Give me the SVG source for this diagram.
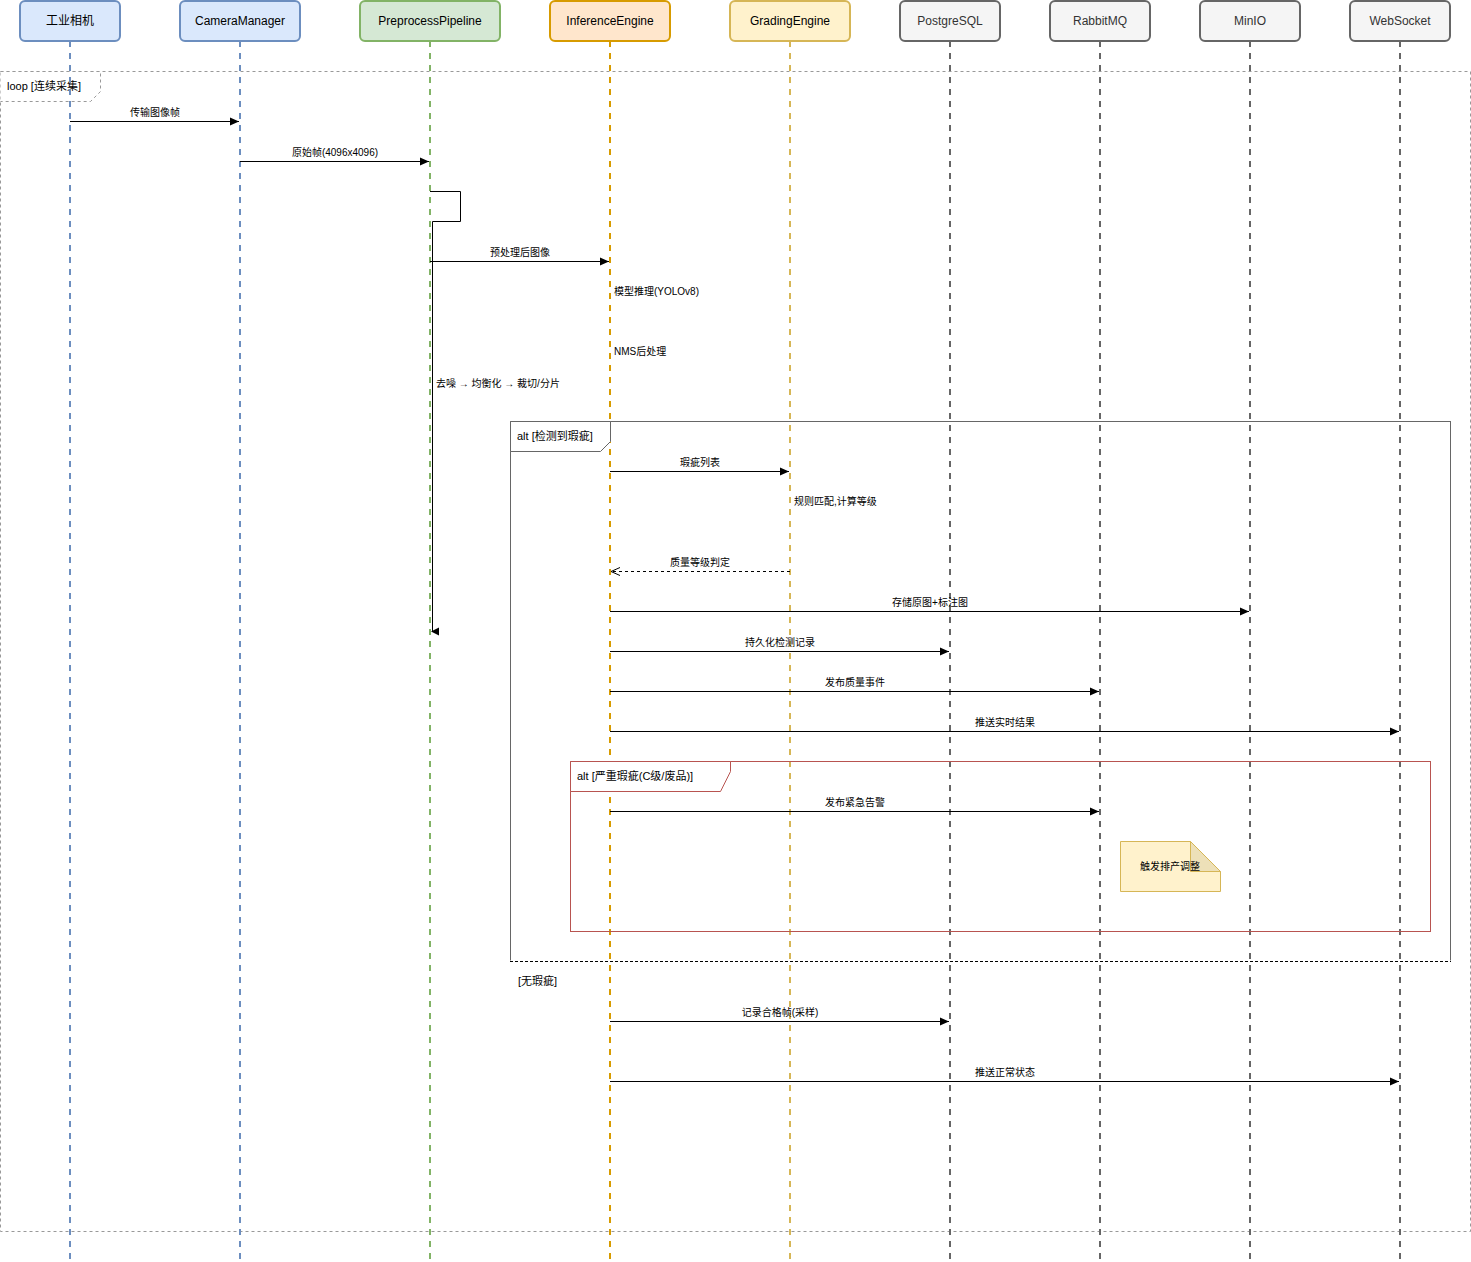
<svg xmlns="http://www.w3.org/2000/svg" width="1471" height="1262" viewBox="0 0 1471 1262">
<style>
text{font-family:"Liberation Sans","Noto Sans CJK SC",sans-serif;font-size:11px;fill:#000}
.h{font-size:12px;text-anchor:middle}
.m{text-anchor:middle;font-size:10px}
.n{font-size:10px}
.ll{stroke-width:2;stroke-dasharray:6 6;fill:none}
.msg{stroke:#000;stroke-width:1;fill:none;marker-end:url(#a)}
</style>
<defs>
<marker id="a" markerWidth="10" markerHeight="10" refX="9" refY="5" orient="auto" markerUnits="userSpaceOnUse"><path d="M0,1 L9,5 L0,9Z" fill="#000"/></marker>
<marker id="o" markerWidth="10" markerHeight="10" refX="9" refY="5" orient="auto" markerUnits="userSpaceOnUse"><path d="M0,1 L9,5 L0,9" fill="none" stroke="#000"/></marker>
</defs>
<rect width="1471" height="1262" fill="#fff"/>
<g id="loop">
<rect x="0.5" y="71.5" width="1470" height="1160" fill="none" stroke="#999" stroke-dasharray="3 3"/>
<path d="M0.5,71.5 H100.5 V91.5 L90.5,101.5 H0.5" fill="#fff" stroke="#999" stroke-dasharray="3 3"/>
<text x="7" y="90">loop [连续采集]</text>
</g>
<g id="lifelines">
<line x1="70" y1="41" x2="70" y2="1260" class="ll" stroke="#6c8ebf"/>
<line x1="240" y1="41" x2="240" y2="1260" class="ll" stroke="#6c8ebf"/>
<line x1="430" y1="41" x2="430" y2="1260" class="ll" stroke="#82b366"/>
<line x1="610" y1="41" x2="610" y2="1260" class="ll" stroke="#d79b00"/>
<line x1="790" y1="41" x2="790" y2="1260" class="ll" stroke="#d6b656"/>
<line x1="950" y1="41" x2="950" y2="1260" class="ll" stroke="#666"/>
<line x1="1100" y1="41" x2="1100" y2="1260" class="ll" stroke="#666"/>
<line x1="1250" y1="41" x2="1250" y2="1260" class="ll" stroke="#666"/>
<line x1="1400" y1="41" x2="1400" y2="1260" class="ll" stroke="#666"/>
</g>
<g id="n1"><rect x="20" y="1" width="100" height="40" rx="5" fill="#dae8fc" stroke="#6c8ebf" stroke-width="2"/><text x="70" y="25" class="h">工业相机</text></g>
<g id="n2"><rect x="180" y="1" width="120" height="40" rx="5" fill="#dae8fc" stroke="#6c8ebf" stroke-width="2"/><text x="240" y="25" class="h">CameraManager</text></g>
<g id="n3"><rect x="360" y="1" width="140" height="40" rx="5" fill="#d5e8d4" stroke="#82b366" stroke-width="2"/><text x="430" y="25" class="h">PreprocessPipeline</text></g>
<g id="n4"><rect x="550" y="1" width="120" height="40" rx="5" fill="#ffe6cc" stroke="#d79b00" stroke-width="2"/><text x="610" y="25" class="h">InferenceEngine</text></g>
<g id="n5"><rect x="730" y="1" width="120" height="40" rx="5" fill="#fff2cc" stroke="#d6b656" stroke-width="2"/><text x="790" y="25" class="h">GradingEngine</text></g>
<g id="n6"><rect x="900" y="1" width="100" height="40" rx="5" fill="#f5f5f5" stroke="#666" stroke-width="2"/><text x="950" y="25" class="h" style="fill:#333">PostgreSQL</text></g>
<g id="n7"><rect x="1050" y="1" width="100" height="40" rx="5" fill="#f5f5f5" stroke="#666" stroke-width="2"/><text x="1100" y="25" class="h" style="fill:#333">RabbitMQ</text></g>
<g id="n8"><rect x="1200" y="1" width="100" height="40" rx="5" fill="#f5f5f5" stroke="#666" stroke-width="2"/><text x="1250" y="25" class="h" style="fill:#333">MinIO</text></g>
<g id="n9"><rect x="1350" y="1" width="100" height="40" rx="5" fill="#f5f5f5" stroke="#666" stroke-width="2"/><text x="1400" y="25" class="h" style="fill:#333">WebSocket</text></g>
<g id="alt1">
<rect x="510.5" y="421.5" width="940" height="540" fill="none" stroke="#666"/>
<line x1="510" y1="961.5" x2="1451" y2="961.5" stroke="#fff" stroke-width="2"/>
<line x1="510" y1="961.5" x2="1451" y2="961.5" stroke="#000" stroke-dasharray="3 2"/>
<path d="M510.5,421.5 H610.5 V441.5 L600.5,451.5 H510.5Z" fill="#fff" stroke="#666"/>
<text x="517" y="440">alt [检测到瑕疵]</text>
<text x="518" y="985">[无瑕疵]</text>
</g>
<g id="alt2">
<rect x="570.5" y="761.5" width="860" height="170" fill="none" stroke="#b85450"/>
<path d="M570.5,761.5 H730.5 V771.5 L720.5,791.5 H570.5Z" fill="#fff" stroke="#b85450"/>
<text x="577" y="780">alt [严重瑕疵(C级/废品)]</text>
</g>
<g id="note">
<path d="M1120.5,841.5 H1190.5 L1220.5,871.5 V891.5 H1120.5Z" fill="#fff2cc" stroke="#d6b656"/>
<path d="M1190.5,841.5 V871.5 H1220.5Z" fill="#ede0b8" stroke="#d6b656"/>
<text x="1170" y="870" class="m">触发排产调整</text>
</g>
<g id="connectors">
<line x1="70" y1="121.5" x2="239" y2="121.5" class="msg"/><text x="155" y="116" class="m">传输图像帧</text>
<line x1="240" y1="161.5" x2="429" y2="161.5" class="msg"/><text x="335" y="156" class="m">原始帧(4096x4096)</text>
<path d="M430,191.5 H460.5 V221.5 H432.5 V631" fill="none" stroke="#000"/>
<path d="M431,631.5 L439,627.5 L439,635.5Z" fill="#000"/>
<line x1="430" y1="261.5" x2="609" y2="261.5" class="msg"/><text x="520" y="256" class="m">预处理后图像</text>
<text x="614" y="295" class="n">模型推理(YOLOv8)</text>
<text x="614" y="355" class="n">NMS后处理</text>
<text x="436" y="387" class="n">去噪 → 均衡化 → 裁切/分片</text>
<line x1="610" y1="471.5" x2="789" y2="471.5" class="msg"/><text x="700" y="466" class="m">瑕疵列表</text>
<text x="794" y="505" class="n">规则匹配,计算等级</text>
<line x1="790" y1="571.5" x2="611" y2="571.5" stroke="#000" stroke-dasharray="3 3" marker-end="url(#o)"/><text x="700" y="566" class="m">质量等级判定</text>
<line x1="610" y1="611.5" x2="1249" y2="611.5" class="msg"/><text x="930" y="606" class="m">存储原图+标注图</text>
<line x1="610" y1="651.5" x2="949" y2="651.5" class="msg"/><text x="780" y="646" class="m">持久化检测记录</text>
<line x1="610" y1="691.5" x2="1099" y2="691.5" class="msg"/><text x="855" y="686" class="m">发布质量事件</text>
<line x1="610" y1="731.5" x2="1399" y2="731.5" class="msg"/><text x="1005" y="726" class="m">推送实时结果</text>
<line x1="610" y1="811.5" x2="1099" y2="811.5" class="msg"/><text x="855" y="806" class="m">发布紧急告警</text>
<line x1="610" y1="1021.5" x2="949" y2="1021.5" class="msg"/><text x="780" y="1016" class="m">记录合格帧(采样)</text>
<line x1="610" y1="1081.5" x2="1399" y2="1081.5" class="msg"/><text x="1005" y="1076" class="m">推送正常状态</text>
</g>
</svg>
